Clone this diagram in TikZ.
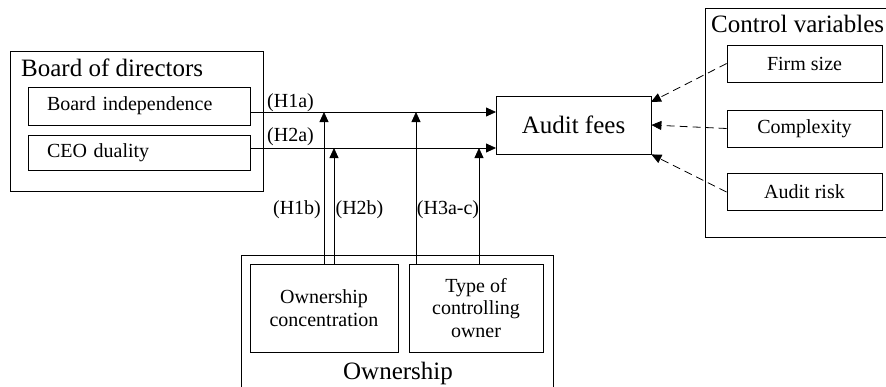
\documentclass[tikz,border=0pt]{standalone}
\usepackage{fontspec}
\setmainfont{Liberation Serif}
\usetikzlibrary{arrows.meta}

\begin{document}
\begin{tikzpicture}[x=1pt, y=-1pt, >={Triangle[length=10pt, width=9pt]}]
  \tikzstyle{grp_box}   = [shape = rectangle, draw = black, line width=0.8pt, inner sep=0pt]
  \tikzstyle{var_box}   = [shape = rectangle, draw = black, line width=0.8pt, align=center,
                           font=\fontsize{20}{22.5}\selectfont]
  \tikzstyle{var_box__l} = [var_box, inner xsep=19pt, text width=184pt, align=left]
  \tikzstyle{grp_title} = [font=\fontsize{25}{28}\selectfont, inner sep=0pt]
  \tikzstyle{hyp_label} = [font=\fontsize{20}{22}\selectfont, inner sep=0pt]

  \clip (0, 0) rectangle (886, 386);

  % groups
  \node[grp_box, minimum width=253pt, minimum height=140pt] at (136.5, 121.0) (board) {};
  \node[grp_title, anchor=base west] at (21, 76) (board_t) {Board of directors};

  \node[grp_box, minimum width=312pt, minimum height=155pt] at (397.0, 332.5) (own) {};
  \node[grp_title, anchor=base] at (398, 379) (own_t) {Ownership};

  \node[grp_box, minimum width=205pt, minimum height=229pt] at (807.5, 122.5) (ctrl) {};
  \node[grp_title, anchor=base west] at (711, 32) (ctrl_t) {Control variables};

  % variables
  \node[var_box__l, minimum height=38pt] at (139.0, 106.0) (bi) {Board independence};
  \node[var_box__l, minimum height=35pt] at (139.0, 152.5) (ceo) {CEO duality};

  \node[var_box, minimum width=155pt, minimum height=58pt, font=\fontsize{25}{28}\selectfont]
                                           at (573.5, 125.0) (fees) {Audit fees};

  \node[var_box, minimum width=148pt, minimum height=88pt] at (324.0, 308.0) (oc) {Ownership\\concentration};
  \node[var_box, minimum width=134pt, minimum height=88pt] at (476.0, 308.0) (tco) {Type of\\controlling\\owner};

  \node[var_box, minimum width=155pt, minimum height=37pt] at (804.5,  63.5) (firm) {Firm size};
  \node[var_box, minimum width=155pt, minimum height=37pt] at (804.5, 128.5) (cplx) {Complexity};
  \node[var_box, minimum width=155pt, minimum height=37pt] at (804.5, 192.0) (risk) {Audit risk};

  % points on the paths
  \coordinate (f1) at (496, 112);
  \coordinate (f2) at (496, 148);
  \coordinate (m1) at (324, 112);
  \coordinate (m2) at (334, 148);
  \coordinate (m3) at (416, 112);
  \coordinate (m4) at (479, 148);
  \coordinate (d1) at (651, 102);

  % hypotheses
  \node[hyp_label] at (290.5, 103) (h1a) {(H1a)};
  \node[hyp_label] at (290.5, 137) (h2a) {(H2a)};
  \node[hyp_label] at (297.0, 210) (h1b) {(H1b)};
  \node[hyp_label] at (359.5, 210) (h2b) {(H2b)};
  \node[hyp_label] at (448.0, 210) (h3) {(H3a-c)};

  \path[->, solid, line width=0.8pt]
    (bi.east |- f1)  edge (f1)
    (ceo.east |- f2) edge (f2)
    (oc.north -| m1) edge (m1)
    (oc.north -| m2) edge (m2)
    (tco.north -| m3) edge (m3)
    (tco.north -| m4) edge (m4)
  ;

  \path[->, dash pattern=on 8pt off 5pt, line width=0.8pt]
    (firm.west) edge (d1)
    (cplx.west) edge (fees.east)
    (risk.west) edge (fees.south east)
  ;
\end{tikzpicture}
\end{document}
